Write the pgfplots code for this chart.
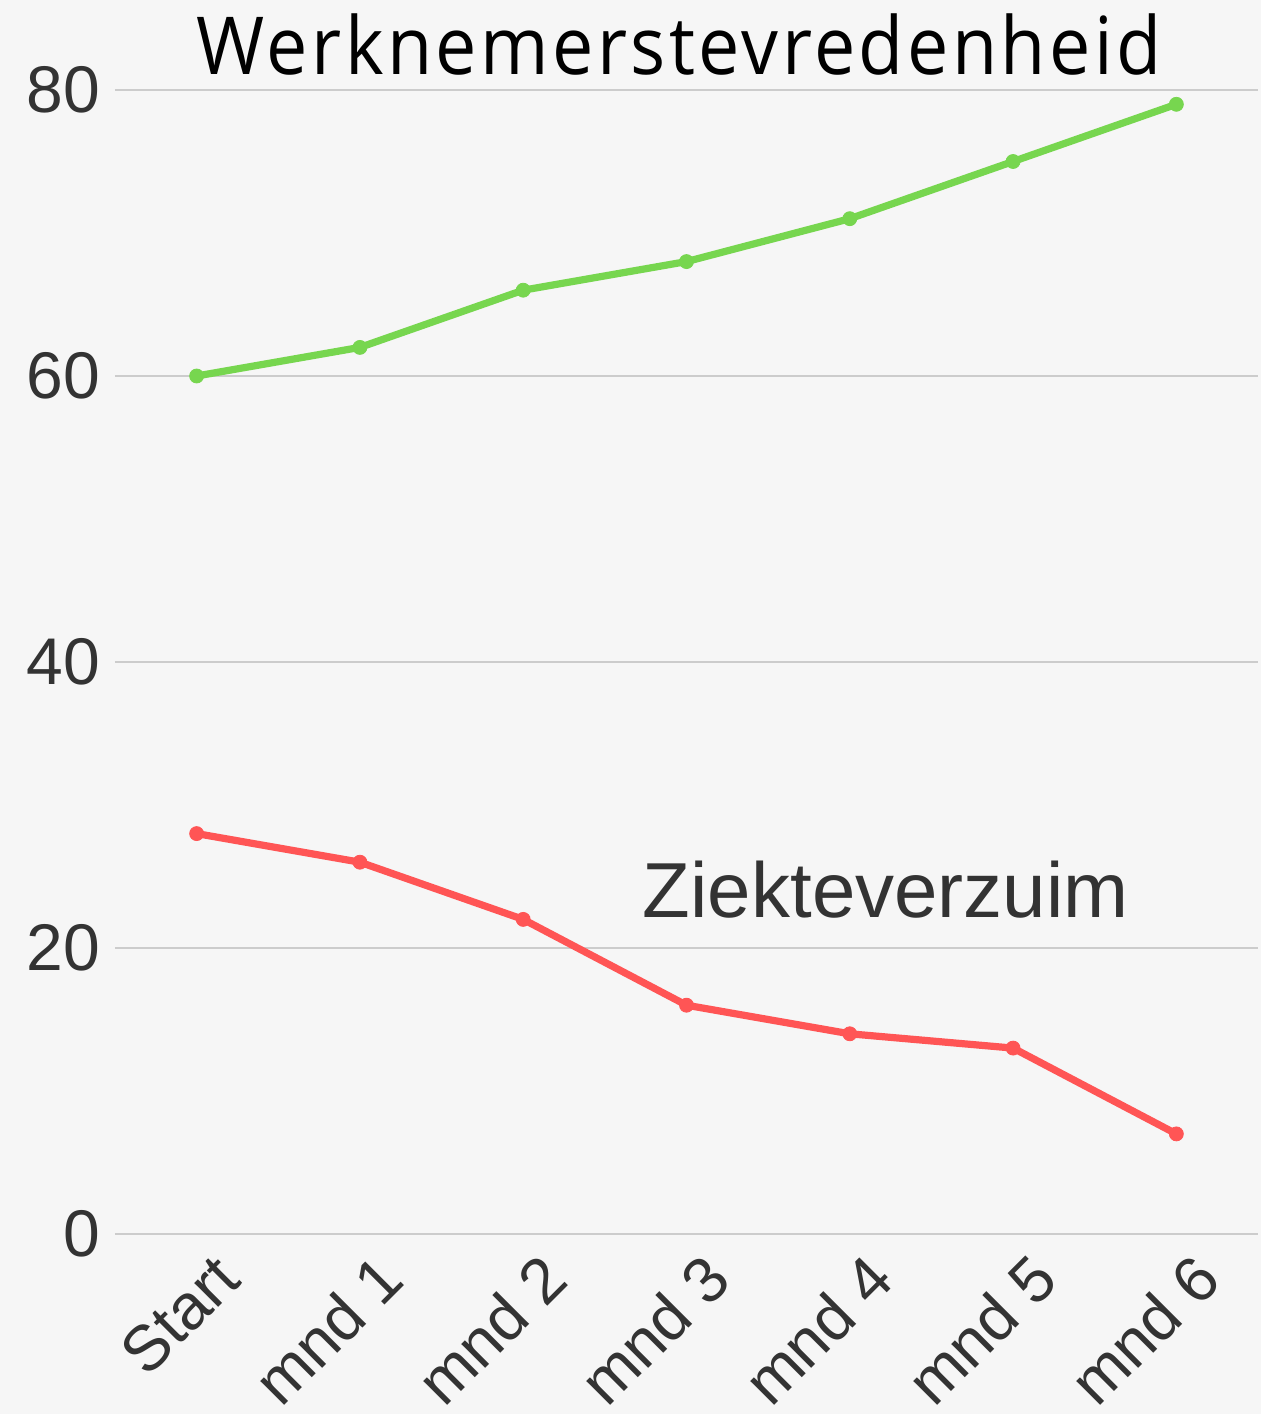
\documentclass[border=0pt]{standalone}
\usepackage{fontspec}
\setmainfont{Liberation Sans}
\newfontfamily\titlefont[FakeStretch=0.92, LetterSpace=4.3]{Open Sans}
\usepackage{pgfplots}
\pgfplotsset{compat=1.18}
\definecolor{bg}{HTML}{F6F6F6}
\definecolor{gline}{HTML}{77D64F}
\definecolor{rline}{HTML}{FF5555}
\definecolor{txt}{HTML}{333333}
\definecolor{gridc}{HTML}{CCCCCC}
\begin{document}
\begin{tikzpicture}
\fill[bg] (0,0) rectangle (630.5pt,707pt);
\useasboundingbox (0,0) rectangle (630.5pt,707pt);
\begin{axis}[
  at={(57.5pt,90pt)}, anchor=south west,
  scale only axis, width=571.5pt, height=572pt,
  xmin=-0.5, xmax=6.5, ymin=0, ymax=80,
  axis line style={draw=none}, major tick style={draw=none},
  ytick={0,20,40,60,80},
  xtick={0,1,2,3,4,5,6},
  xticklabels={Start,mnd 1,mnd 2,mnd 3,mnd 4,mnd 5,mnd 6},
  ymajorgrids, grid style={gridc, line width=1pt},
  yticklabel style={font=\fontsize{33}{39}\selectfont, text=txt, xshift=-4pt},
  xticklabel style={font=\fontsize{32}{38}\selectfont, text=txt, xshift=18pt, yshift=-14pt, rotate=45, anchor=east},
  clip=false,
  /pgf/number format/assume math mode=true,
]
\addplot[gline, line width=3.6pt, mark=*, mark size=3.5pt, mark options={line width=0.4pt}] coordinates {
(0,60) (1,62) (2,66) (3,68) (4,71) (5,75) (6,79)};
\addplot[rline, line width=3.6pt, mark=*, mark size=3.5pt, mark options={line width=0.4pt}] coordinates {
(0,28) (1,26) (2,22) (3,16) (4,14) (5,13) (6,7)};
\node[anchor=base, text=txt, font=\fontsize{39}{47}\selectfont] at (axis cs:4.22,22.1) {Ziekteverzuim};
\end{axis}
\node[anchor=base, font=\titlefont\fontsize{40}{48}\selectfont] at (339.5pt,669.5pt) {Werknemerstevredenheid};
\end{tikzpicture}
\end{document}
